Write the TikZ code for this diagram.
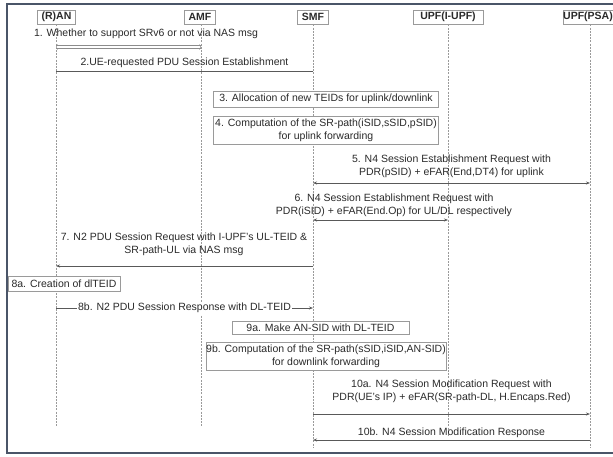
\documentclass[tikz,border=0pt]{standalone}
\usepackage{fontspec}
\setmainfont{Liberation Sans}
\usetikzlibrary{arrows.meta}
\definecolor{framec}{HTML}{4A5568}
\definecolor{txt}{HTML}{2A2A2A}
\definecolor{boxc}{HTML}{9A9A9A}
\definecolor{lifec}{HTML}{9A9A9A}
\begin{document}
\begin{tikzpicture}[x=1pt,y=-1pt,
  hdr/.style={draw=boxc, fill=white, line width=0.7pt, font=\bfseries\fontsize{10.5}{12}\selectfont, text=txt, inner sep=0pt, minimum height=14pt},
  lifeline/.style={draw=lifec, line width=0.6pt, dash pattern=on 2pt off 1.2pt},
  msg/.style={draw=black!65, line width=0.6pt},
  tip/.style={-{Stealth[length=4pt,width=3pt]}},
  lbl/.style={font=\fontsize{10.5}{13}\selectfont, text=txt, align=center, inner sep=0pt},
  actbox/.style={draw=boxc, fill=white, line width=0.7pt, font=\fontsize{10.5}{13}\selectfont, text=txt, align=center, inner sep=0pt},
]
\useasboundingbox (0,0) rectangle (613,456);
% frame
\draw[framec, line width=2.2pt] (630,4) -- (7,4) -- (7,453) -- (630,453);
% headers
\node[hdr, minimum width=38pt] (ran) at (56.5,17) {(R)AN};
\node[hdr, minimum width=31pt] (amf) at (200,17) {AMF};
\node[hdr, minimum width=31pt] (smf) at (313,17) {SMF};
\node[hdr, minimum width=70pt] (iupf) at (448,17) {UPF(I-UPF)};
\node[hdr, minimum width=50pt] (psa) at (588,17) {UPF(PSA)};
% lifeline ends
\coordinate (ranB) at (56,427);
\coordinate (amfB) at (201,427);
\coordinate (smfB) at (313,447);
\coordinate (iupfB) at (448,437);
\coordinate (psaB) at (590,447);
\draw[lifeline] (ran.south -| ranB) -- (ranB);
\draw[lifeline] (amf.south -| amfB) -- (amfB);
\draw[lifeline] (smf.south -| smfB) -- (smfB);
\draw[lifeline] (iupf.south -| iupfB) -- (iupfB);
\draw[lifeline] (psa.south -| psaB) -- (psaB);
% 1
\node[lbl] (t1) at (146,34) {1. Whether to support SRv6 or not via NAS msg};
\coordinate (m1a) at (56,47);
\coordinate (m1b) at (201,47);
\draw[draw=black!45, line width=0.45pt, double=white, double distance=2.2pt,
  {Straight Barb[length=1.5pt,width=5pt]}-{Straight Barb[length=1.5pt,width=5pt]}] (m1a) -- (m1b);
% 2
\node[lbl] (t2) at (184.5,63) {2.UE-requested PDU Session Establishment};
\coordinate (m2a) at (56,71);
\coordinate (m2b) at (313,71);
\draw[msg] (m2a) -- (m2b);
% 3
\node[actbox, minimum width=225pt, minimum height=16pt] (b3) at (326,99) {3. Allocation of new TEIDs for uplink/downlink};
% 4
\node[actbox, minimum width=225pt, minimum height=28pt] (b4) at (326,130) {4. Computation of the SR-path(iSID,sSID,pSID)\\for uplink forwarding};
% 5
\node[lbl] (t5) at (451.5,166.5) {5. N4 Session Establishment Request with\\PDR(pSID) + eFAR(End,DT4) for uplink};
\coordinate (m5a) at (313,183);
\coordinate (m5b) at (590,183);
\draw[msg, {Stealth[length=4pt,width=3pt]}-{Stealth[length=4pt,width=3pt]}] (m5a) -- (m5b);
% 6
\node[lbl] (t6) at (394,205) {6. N4 Session Establishment Request with\\PDR(iSID) + eFAR(End.Op) for UL/DL respectively};
\coordinate (m6a) at (313,220);
\coordinate (m6b) at (448,220);
\draw[msg, {Stealth[length=4pt,width=3pt]}-{Stealth[length=4pt,width=3pt]}] (m6a) -- (m6b);
% 7
\node[lbl] (t7) at (184,244) {7. N2 PDU Session Request with I-UPF's UL-TEID \&\\SR-path-UL via NAS msg};
\coordinate (m7a) at (313,266);
\coordinate (m7b) at (56,266);
\draw[msg, tip] (m7a) -- (m7b);
% 8a
\node[actbox, minimum width=112pt, minimum height=15pt] (b8a) at (64,284) {8a. Creation of dlTEID};
% 8b
\coordinate (m8a) at (56,308);
\coordinate (m8b) at (313,308);
\draw[msg, tip] (m8a) -- (m8b) node[midway, lbl, fill=white, inner xsep=1pt, inner ysep=1pt] (t8b) {8b. N2 PDU Session Response with DL-TEID};
% 9a
\node[actbox, minimum width=177pt, minimum height=13pt] (b9a) at (320.5,327.5) {9a. Make AN-SID with DL-TEID};
% 9b
\node[actbox, minimum width=240pt, minimum height=28pt] (b9b) at (326,356) {9b. Computation of the SR-path(sSID,iSID,AN-SID)\\for downlink forwarding};
% 10a
\node[lbl] (t10a) at (451.5,391.5) {10a. N4 Session Modification Request with\\PDR(UE's IP) + eFAR(SR-path-DL, H.Encaps.Red)};
\coordinate (m10a) at (313,414);
\coordinate (m10b) at (590,414);
\draw[msg, tip] (m10a) -- (m10b);
% 10b
\node[lbl] (t10b) at (451.5,433) {10b. N4 Session Modification Response};
\coordinate (m10c) at (590,440);
\coordinate (m10d) at (313,440);
\draw[msg, tip] (m10c) -- (m10d);
\end{tikzpicture}
\end{document}
